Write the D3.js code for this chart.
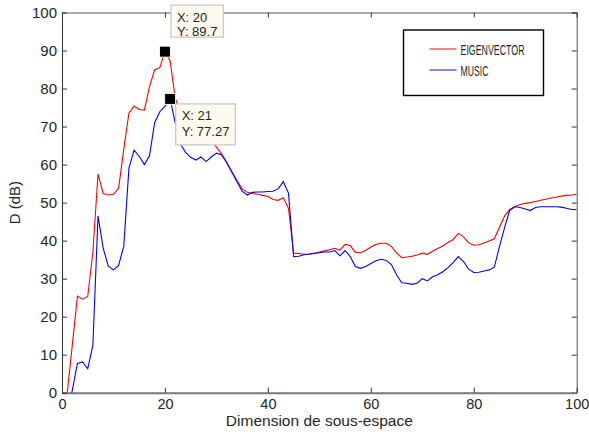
<!DOCTYPE html>
<html>
<head>
<meta charset="utf-8">
<script src="https://cdn.jsdelivr.net/npm/d3@7"></script>
<style>
  body { margin: 0; background: #fff; }
  svg { display: block; }
  text { font-family: "Liberation Sans", Arial, sans-serif; fill: #262626; }
</style>
</head>
<body>
<div id="root"></div>
<script>
// data, one value per subspace dimension 1..100
var dims = d3.range(1, 101);

var eigenvector = [
  -0.3, 12.5, 25.4, 24.6, 25.3, 37, 57.5, 52.4, 52, 52.2,
  53.8, 64, 73.5, 75.4, 74.5, 74.3, 80.5, 84.9, 85.5, 89.7,
  87.3, 77.5, 73.5, 71.8, 70.2, 69, 68.1, 67.2, 66.3, 64.6,
  62.8, 60.6, 58.2, 55.8, 53.6, 52.7, 52.4, 52.2, 51.9, 51.6,
  50.8, 50.6, 51.3, 48.5, 36.7, 36.6, 36.4, 36.5, 36.7, 37,
  37.3, 37.6, 38, 37.5, 39, 38.7, 36.9, 36.8, 37.4, 38.3,
  39, 39.3, 39.3, 38.5, 36.8, 35.5, 35.7, 35.9, 36.2, 36.7,
  36.4, 37.2, 37.9, 38.6, 39.5, 40.3, 41.9, 41, 39.4, 38.8,
  38.9, 39.4, 39.9, 40.5, 43.5, 46.5, 48.2, 49, 49.5, 49.8,
  50, 50.3, 50.6, 50.9, 51.2, 51.4, 51.7, 51.9, 52, 52.2
];

var music = [
  -6, 0.6, 7.7, 8.1, 6.3, 12.5, 46.5, 38, 33.3, 32.3,
  33.5, 38.5, 59, 63.8, 62.2, 60, 62.3, 71, 73.9, 75.3,
  77.27, 71, 65.5, 63.2, 61.9, 61.2, 62, 60.8, 62, 63,
  62.6, 60.5, 58, 55.5, 53, 52, 52.7, 52.8, 52.8, 52.9,
  53, 53.6, 55.5, 52.5, 35.8, 35.9, 36.3, 36.4, 36.6, 36.8,
  37, 37, 37.4, 36, 37.4, 35.8, 33.2, 32.7, 33.2, 34,
  34.7, 35.1, 34.8, 33.7, 31, 28.9, 28.8, 28.5, 28.8, 30,
  29.4, 30.5, 31, 31.8, 32.9, 34.2, 35.8, 34.5, 32.5, 31.6,
  31.7, 32, 32.3, 33, 38.5, 43.5, 48, 48.9, 48.7, 48.3,
  47.9, 48.7, 48.9, 48.9, 48.9, 48.9, 48.8, 48.5, 48.2, 48.2
];

var seriesNames = ["EIGENVECTOR", "MUSIC"];
var seriesColors = ["#ff0000", "#0000ff"];
var xTicks = [0, 20, 40, 60, 80, 100];
var yTicks = [0, 10, 20, 30, 40, 50, 60, 70, 80, 90, 100];

// data cursors: [series index, dimension]
var cursors = [[0, 20], [1, 21]];

var width = 589, height = 437;
var margin = {top: 12.5, right: 12.3, bottom: 44.3, left: 62};
var w = width - margin.left - margin.right,
    h = height - margin.top - margin.bottom;

var svg = d3.select("#root").append("svg")
    .attr("width", width)
    .attr("height", height);

var g = svg.append("g")
    .attr("transform", "translate(" + margin.left + "," + margin.top + ")");

var x = d3.scaleLinear().domain([0, 100]).range([0, w]);
var y = d3.scaleLinear().domain([0, 100]).range([h, 0]);

g.append("clipPath").attr("id", "plotclip")
  .append("rect").attr("width", w).attr("height", h);

// box axes, ticks pointing inward
g.append("g")
    .call(d3.axisTop(x).tickValues(xTicks).tickSize(-5).tickFormat(""))
    .call(function(a) { a.select(".domain").attr("stroke", "#555"); a.selectAll("line").attr("stroke", "#333"); });
g.append("g").attr("transform", "translate(" + w + ",0)")
    .call(d3.axisRight(y).tickValues(yTicks).tickSize(-5).tickFormat(""))
    .call(function(a) { a.select(".domain").attr("stroke", "#555"); a.selectAll("line").attr("stroke", "#333"); });

var xAxis = g.append("g").attr("transform", "translate(0," + h + ")")
    .call(d3.axisBottom(x).tickValues(xTicks).tickSize(-5).tickSizeOuter(0).tickPadding(6));
xAxis.select(".domain").attr("stroke", "#777").attr("stroke-width", 2);
xAxis.selectAll("line").attr("stroke", "#333");
xAxis.selectAll("text").attr("font-size", "14.5px").style("font-family", "Liberation Sans, Arial, sans-serif").attr("fill", "#262626");

var yAxis = g.append("g")
    .call(d3.axisLeft(y).tickValues(yTicks).tickSize(-5).tickSizeOuter(0).tickPadding(5));
yAxis.select(".domain").attr("stroke", "#333");
yAxis.selectAll("line").attr("stroke", "#333");
yAxis.selectAll("text").attr("font-size", "15px").style("font-family", "Liberation Sans, Arial, sans-serif").attr("fill", "#262626");

// curves
var line = d3.line()
    .x(function(d) { return x(d[0]); })
    .y(function(d) { return y(d[1]); });

[eigenvector, music].forEach(function(vals, i) {
  g.append("path")
      .datum(dims.map(function(d, k) { return [d, vals[k]]; }))
      .attr("clip-path", "url(#plotclip)")
      .attr("fill", "none")
      .attr("stroke", seriesColors[i])
      .attr("stroke-width", 1.1)
      .attr("d", line);
});

// axis titles
svg.append("text")
    .attr("x", margin.left + w / 2)
    .attr("y", 426)
    .attr("text-anchor", "middle")
    .attr("font-size", "15.5px")
    .text("Dimension de sous-espace");

svg.append("text")
    .attr("transform", "translate(20," + (margin.top + h / 2) + ")rotate(-90)")
    .attr("text-anchor", "middle")
    .attr("font-size", "15px")
    .text("D (dB)");

// legend
var legend = svg.append("g").attr("transform", "translate(403.5,30)");
legend.append("rect")
    .attr("width", 140).attr("height", 65.5)
    .attr("fill", "#fff").attr("stroke", "#000").attr("stroke-width", 1.4);
var textWidths = [64, 28];
seriesNames.forEach(function(name, i) {
  var ly = 19 + i * 21;
  legend.append("line")
      .attr("x1", 26).attr("x2", 53)
      .attr("y1", ly).attr("y2", ly)
      .attr("stroke", seriesColors[i]).attr("stroke-opacity", 0.75).attr("stroke-width", 1.3);
  legend.append("text")
      .attr("x", 57).attr("y", ly + 5.5)
      .attr("font-size", "15px")
      .style("font-family", "Liberation Sans Narrow, Arial Narrow, Liberation Sans, sans-serif")
      .attr("textLength", textWidths[i])
      .attr("lengthAdjust", "spacingAndGlyphs")
      .attr("fill", "#333")
      .text(name);
});

// data cursor markers and tips
var tipOffsets = [{dx: 6, dy: -46.5, h: 32, b1: 16.5, b2: 30.5},
                  {dx: 5.6, dy: 5, h: 41, b1: 16.5, b2: 32}];
var allSeries = [eigenvector, music];
cursors.forEach(function(c, i) {
  var dv = c[1], val = allSeries[c[0]][dv - 1];
  var px = margin.left + x(dv), py = margin.top + y(val);
  svg.append("rect")
      .attr("x", px - 5.5).attr("y", py - 5.5)
      .attr("width", 11).attr("height", 11)
      .attr("fill", "#000").attr("stroke", "#fdf8e8").attr("stroke-width", 1);

  var o = tipOffsets[i];
  var tip = svg.append("g").attr("transform", "translate(" + (px + o.dx) + "," + (py + o.dy) + ")");
  var box = tip.append("rect")
      .attr("height", o.h)
      .attr("fill", "#fffaee").attr("stroke", "#c8c8c8").attr("stroke-width", 1.3);
  var t1 = tip.append("text").attr("x", 6).attr("y", o.b1).attr("font-size", "13px").attr("fill", "#333")
      .text("X: " + dv);
  var t2 = tip.append("text").attr("x", 6).attr("y", o.b2).attr("font-size", "13px").attr("fill", "#333")
      .text("Y: " + val);
  var tw = Math.max(t1.node().getBBox().width, t2.node().getBBox().width);
  box.attr("width", tw + 12);
});
</script>
</body>
</html>
